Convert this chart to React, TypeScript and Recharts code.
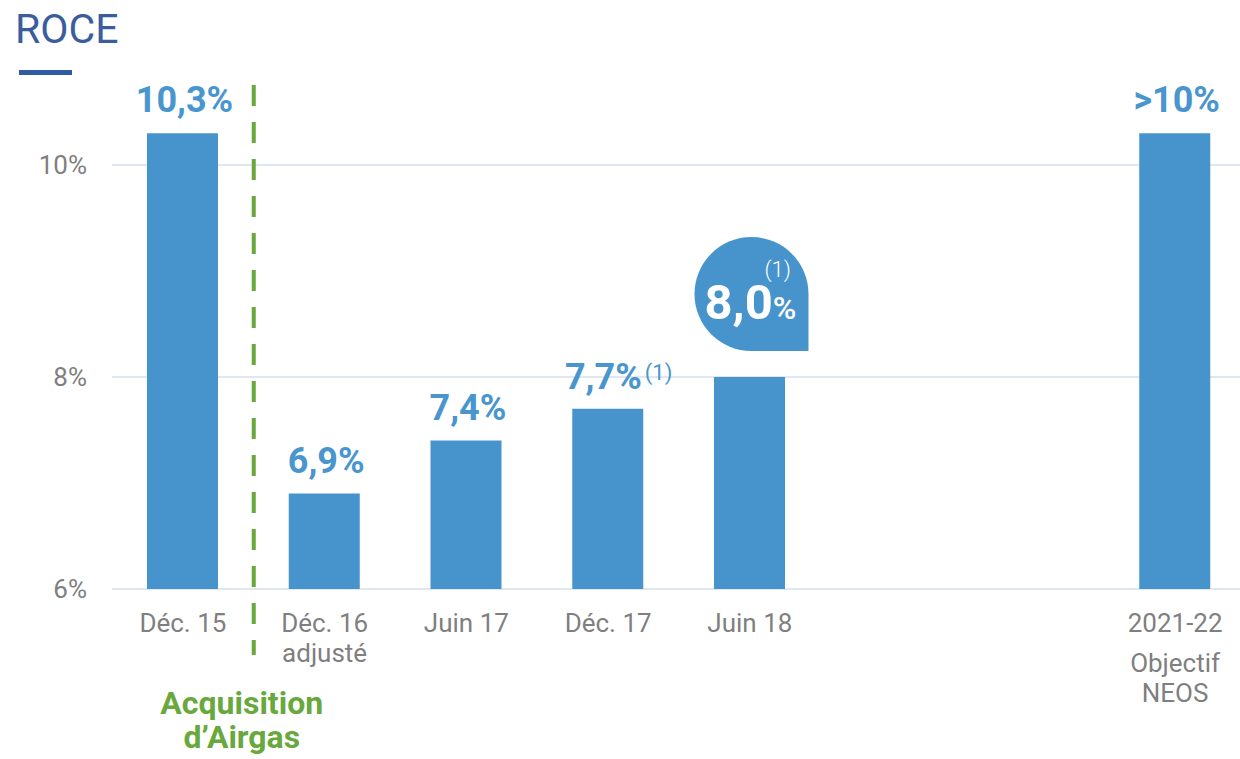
import React from 'react';
import { BarChart, Bar, XAxis, YAxis, CartesianGrid, LabelList, ReferenceLine } from 'recharts';

// categories (the two blank ones keep the gap before the 2021-22 target)
const periods = ['Déc. 15', 'Déc. 16', 'Juin 17', 'Déc. 17', 'Juin 18', ' ', '  ', '2021-22'];
const periodSubLines = [[], ['adjusté'], [], [], [], [], [], ['Objectif', 'NEOS']];
// ROCE in %
const roce = [10.3, 6.9, 7.4, 7.7, 8.0, null, null, 10.3];
const roceLabels = ['10,3%', '6,9%', '7,4%', '7,7%', '8,0%', '', '', '>10%'];
const footnoted = ['7,7%', '8,0%'];
const highlighted = '8,0%';
const yTicks = [6, 8, 10];
const yDomain = [6, 11];

const data = periods.map((p, i) => ({ period: p, roce: roce[i], label: roceLabels[i] }));

const BLUE = '#4794cc';
const LABEL_BLUE = '#4996cf';
const GREEN = '#68a83d';
const GREY = '#7f7f7f';
const FONT = 'Roboto, "Noto Sans", sans-serif';

const PeriodTick = (props: any) => {
  const { x, y, payload } = props;
  const idx = periods.indexOf(payload.value);
  const main = String(payload.value).trim();
  if (!main) return null;
  const sub = periodSubLines[idx] || [];
  const firstGap = sub.length > 1 ? 40 : 30;
  return (
    <g>
      <text x={x} y={y + 43} textAnchor="middle" fill={GREY} fontSize={26} fontFamily={FONT}>
        {main}
      </text>
      {sub.map((s, k) => (
        <text key={k} x={x} y={y + 43 + firstGap + k * 30} textAnchor="middle" fill={GREY} fontSize={26} fontFamily={FONT}>
          {s}
        </text>
      ))}
    </g>
  );
};

const ValueLabel = (props: any) => {
  const { x, y, width, value } = props;
  if (!value) return null;
  const cx = x + width / 2;
  if (value === highlighted) {
    // speech-bubble badge
    const r = 57;
    const L = cx + 2 - r;
    const B = y - 26;
    const T = B - 2 * r;
    const R = L + 2 * r;
    const mx = L + r;
    const my = T + r;
    const d = `M ${R} ${B} L ${mx} ${B} A ${r} ${r} 0 0 1 ${L} ${my} A ${r} ${r} 0 0 1 ${mx} ${T} A ${r} ${r} 0 0 1 ${R} ${my} Z`;
    return (
      <g>
        <path d={d} fill={BLUE} />
        <text x={L + 10} y={T + 82} fill="#fff" fontFamily={FONT}>
          <tspan fontSize={49} fontWeight={700}>{value.replace('%', '')}</tspan>
          <tspan fontSize={32} fontWeight={500}>%</tspan>
        </text>
        <text x={L + 70} y={T + 40} fill="#fff" fontSize={22} fontWeight={300} fontFamily={FONT}>(1)</text>
      </g>
    );
  }
  if (footnoted.includes(value)) {
    return (
      <g>
        <text x={cx + 34} y={y - 20} textAnchor="end" fill={LABEL_BLUE} fontSize={36} fontWeight={700} fontFamily={FONT}>
          {value}
        </text>
        <text x={cx + 37} y={y - 29} textAnchor="start" fill={LABEL_BLUE} fontSize={22} fontFamily={FONT}>(1)</text>
      </g>
    );
  }
  return (
    <text x={cx + 2} y={y - 21} textAnchor="middle" fill={LABEL_BLUE} fontSize={36} fontWeight={700} fontFamily={FONT}>
      {value}
    </text>
  );
};

// dashed divider between Déc. 15 and Déc. 16, with its caption
const AcquisitionLine = (props: any) => {
  const { x1, y1, y2 } = props;
  const top = Math.min(y1, y2) + 26;
  const bottom = Math.max(y1, y2) + 66;
  return (
    <g>
      <line x1={x1} x2={x1} y1={top} y2={bottom} stroke={GREEN} strokeWidth={4} strokeDasharray="21 16" />
      <text x={x1 - 12} y={Math.max(y1, y2) + 125} textAnchor="middle" fill={GREEN} fontSize={32} fontWeight={700} fontFamily={FONT}>
        Acquisition
      </text>
      <text x={x1 - 12} y={Math.max(y1, y2) + 159} textAnchor="middle" fill={GREEN} fontSize={32} fontWeight={700} fontFamily={FONT}>
        d’Airgas
      </text>
    </g>
  );
};

// grid lines only at the labelled ticks (no line at the top of the domain)
const gridRows = ({ offset }: any) => {
  const [lo, hi] = yDomain;
  return yTicks.map((t) => offset.top + offset.height * (1 - (t - lo) / (hi - lo)));
};

export default function App() {
  return (
    <div style={{ position: 'absolute', left: 0, top: 0, width: 1240, height: 759, overflow: 'hidden', background: '#fff' }}>
      <BarChart width={1246} height={759} data={data} margin={{ top: 59, right: 0, bottom: 0, left: 0 }}>
        <CartesianGrid horizontal vertical={false} stroke="#dfe7f3" strokeWidth={2} horizontalCoordinatesGenerator={gridRows} />
        <XAxis
          dataKey="period"
          height={170}
          interval={0}
          axisLine={false}
          tickLine={false}
          tickSize={0}
          tickMargin={0}
          tick={<PeriodTick />}
        />
        <YAxis
          width={112}
          domain={yDomain}
          ticks={yTicks}
          allowDataOverflow
          axisLine={false}
          tickLine={false}
          tickSize={0}
          tickMargin={25}
          tickFormatter={(v: number) => `${v}%`}
          tick={{ fill: GREY, fontSize: 26, fontFamily: FONT }}
        />
        <Bar dataKey="roce" fill={BLUE} barSize={71} isAnimationActive={false}>
          <LabelList dataKey="label" content={<ValueLabel />} />
        </Bar>
        <ReferenceLine x="Déc. 15" position="end" ifOverflow="visible" shape={<AcquisitionLine />} />
      </BarChart>
      <svg width={1240} height={100} style={{ position: 'absolute', left: 0, top: 0, pointerEvents: 'none' }}>
        <text x={15} y={43} fill="#3b5d9e" fontSize={41} fontFamily={FONT}>ROCE</text>
        <rect x={19} y={70} width={53} height={5} fill="#2f5ba3" />
      </svg>
    </div>
  );
}
